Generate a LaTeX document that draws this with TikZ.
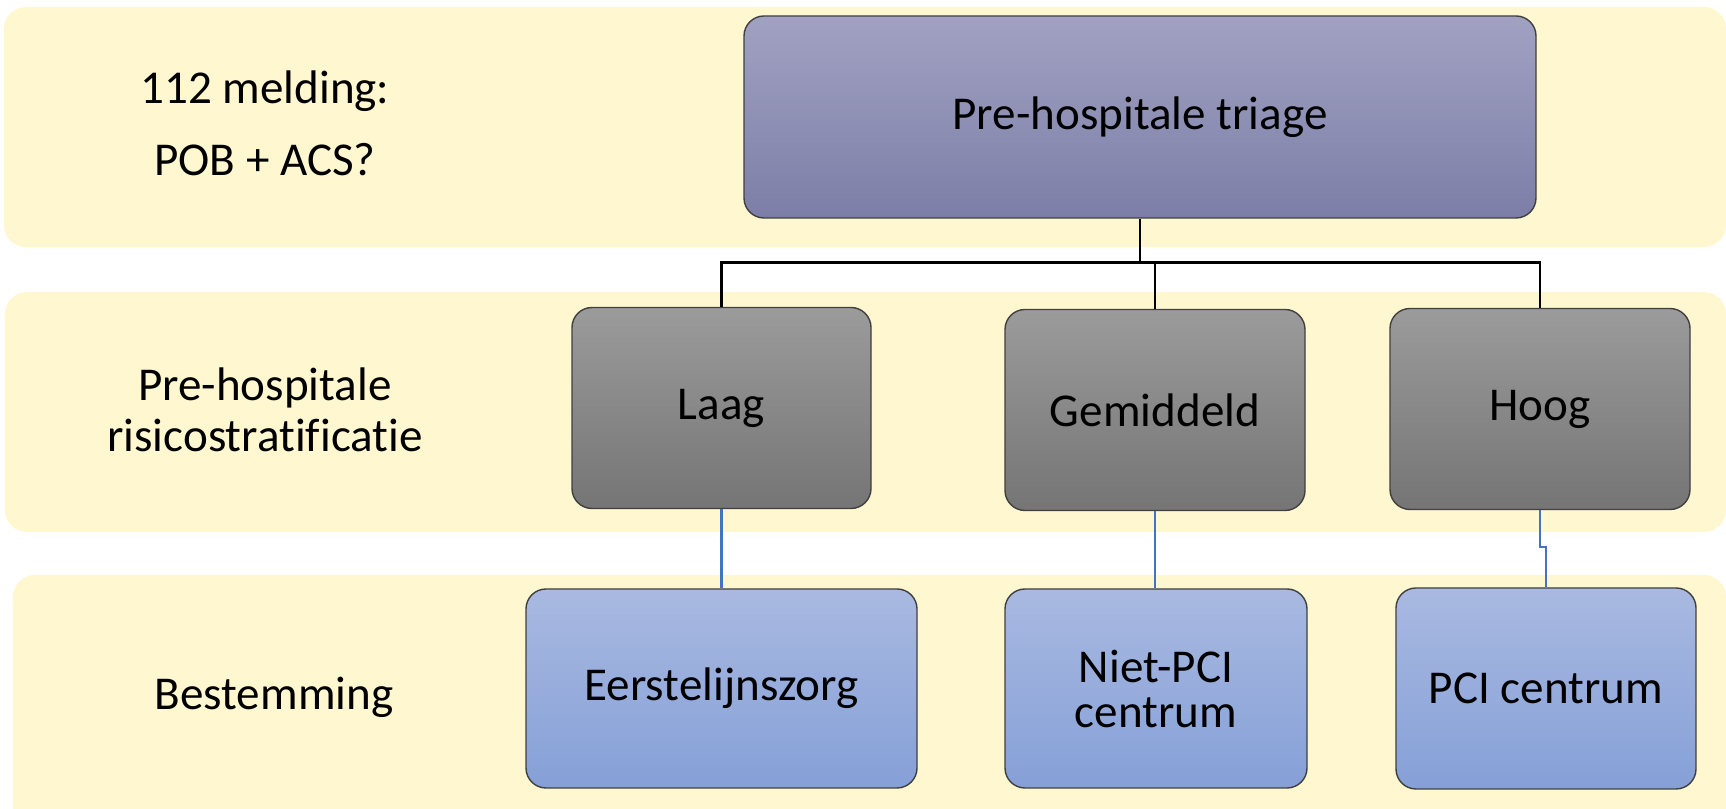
\documentclass[tikz,border=0pt]{standalone}
\usepackage{fontspec}
\setmainfont{Carlito}[Ligatures=NoCommon]
\definecolor{BandYellow}{HTML}{FFF7CF}
\definecolor{TriageTop}{HTML}{A1A2C2}
\definecolor{TriageBot}{HTML}{7C7EA7}
\definecolor{RiskTop}{HTML}{9B9B9B}
\definecolor{RiskBot}{HTML}{757575}
\definecolor{DestTop}{HTML}{A9B9E1}
\definecolor{DestBot}{HTML}{85A0D7}
\definecolor{LinkBlue}{HTML}{4472C4}

\begin{document}
\begin{tikzpicture}[
    box/.style={draw=black!75, line width=0.4pt, rounded corners=0.2cm, inner sep=0pt,
        align=center, font=\fontsize{13.4}{12.8}\selectfont},
    riskbox/.style={box, top color=RiskTop, bottom color=RiskBot, minimum width=3cm, minimum height=2.01cm},
    destbox/.style={box, top color=DestTop, bottom color=DestBot, minimum width=3cm, minimum height=2cm},
    rowlabel/.style={align=center, font=\fontsize{13.4}{14.5}\selectfont},
    tree/.style={draw=black, line width=0.75pt},
    link/.style={draw=LinkBlue, line width=0.6pt}
]
    \useasboundingbox (0,0) rectangle (17.26,8.09);
    \clip (0,0) rectangle (17.26,8.09);

    % Bands
    \fill[BandYellow, rounded corners=0.22cm] (0.04,5.62) rectangle (17.26,8.02);
    \fill[BandYellow, rounded corners=0.22cm] (0.05,2.77) rectangle (17.26,5.17);
    \fill[BandYellow, rounded corners=0.22cm] (0.13,-0.4) rectangle (17.26,2.34);

    % Row labels
    \node[rowlabel, font=\fontsize{13.4}{20.5}\selectfont] (melding) at (2.65,6.86) {112 melding:\\POB + ACS?};
    \node[rowlabel] (risico) at (2.65,3.99) {Pre-hospitale\\risicostratificatie};
    \node[rowlabel] (bestemming) at (2.74,1.12) {Bestemming};

    % Triage
    \node[box, top color=TriageTop, bottom color=TriageBot, minimum width=7.92cm, minimum height=2.02cm]
        (triage) at (11.40,6.92) {Pre-hospitale triage};

    % Risk levels
    \node[riskbox, minimum width=2.99cm] (laag) at (7.215,4.01) {Laag};
    \node[riskbox] (gemiddeld) at (11.55,3.99) {Gemiddeld};
    \node[riskbox] (hoog) at (15.40,4.00) {Hoog};

    % Destinations
    \node[destbox, minimum width=3.91cm, minimum height=1.99cm] (eerste) at (7.215,1.205) {Eerstelijnszorg};
    \node[destbox, minimum width=3.02cm, minimum height=1.99cm] (nietpci) at (11.56,1.205) {Niet-PCI\\centrum};
    \node[destbox, minimum height=2.01cm] (pci) at (15.46,1.205) {PCI centrum};

    % Tree from triage
    \coordinate (fork) at ([yshift=-0.44cm]triage.south);
    \draw[tree] (triage.south) -- (fork);
    \draw[tree] (fork) -| (laag.north);
    \draw[tree] (fork) -| (gemiddeld.north);
    \draw[tree] (fork) -| (hoog.north);

    % Links to destinations
    \draw[link] (laag.south) -- (eerste.north);
    \draw[link] (gemiddeld.south) -- (gemiddeld.south |- nietpci.north);
    \coordinate (kink) at ([yshift=0.4cm]pci.north);
    \draw[link] (hoog.south) |- (kink) -- (pci.north);
\end{tikzpicture}
\end{document}
